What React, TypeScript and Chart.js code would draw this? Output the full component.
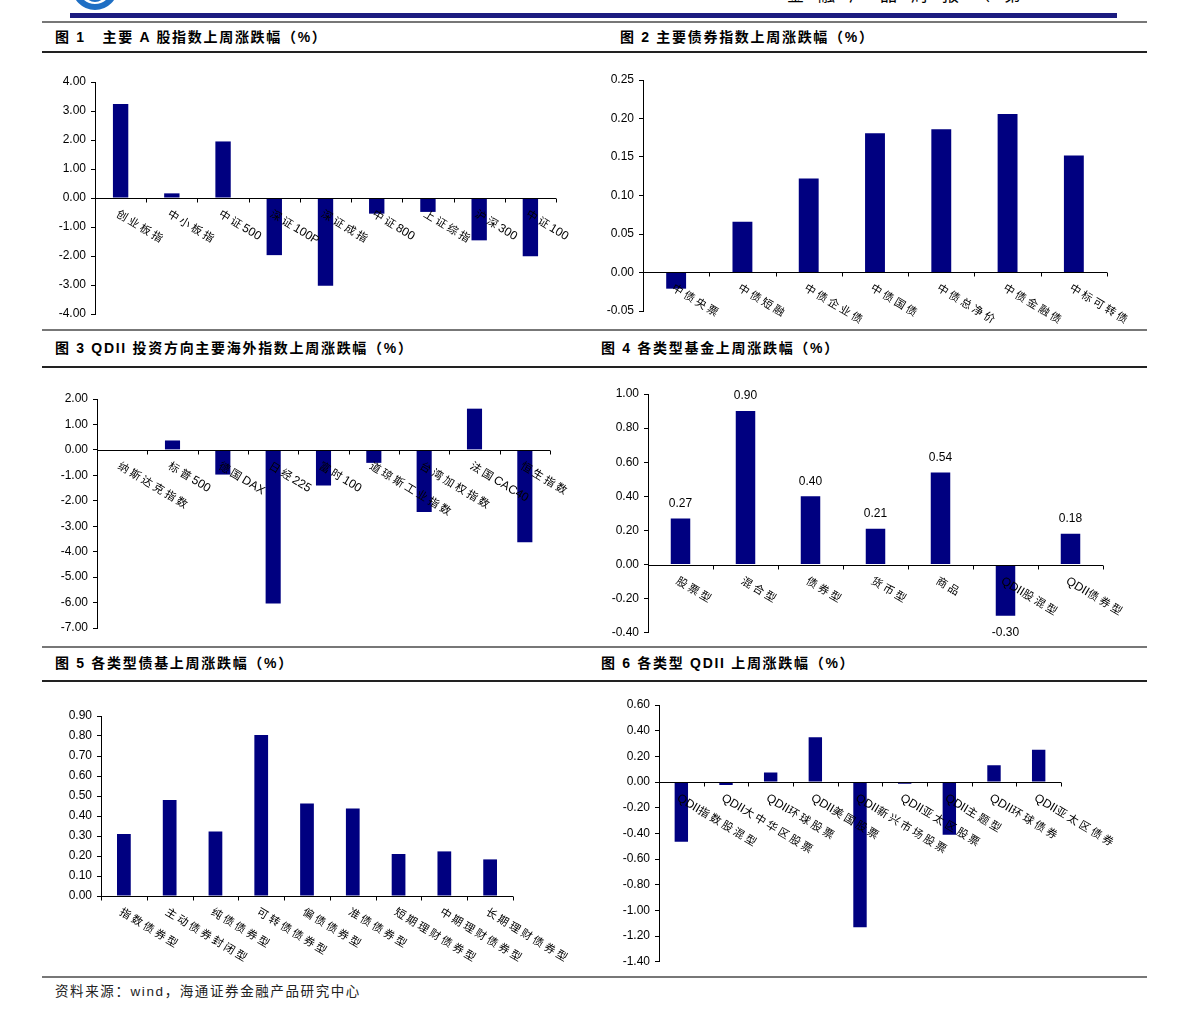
import React, { useEffect, useRef } from "react";
import { Chart, registerables } from "chart.js";

Chart.register(...registerables);

// ---------- data ----------
const aShareCategories = ["创业板指", "中小板指", "中证500", "深证100P", "深证成指", "中证800", "上证综指", "沪深300", "中证100"];
const aShareValues = [3.24, 0.16, 1.95, -1.97, -3.03, -0.54, -0.48, -1.46, -2.01];
const aShareTicks = [4, 3, 2, 1, 0, -1, -2, -3, -4];

const bondIndexCategories = ["中债央票", "中债短融", "中债企业债", "中债国债", "中债总净价", "中债金融债", "中标可转债"];
const bondIndexValues = [-0.021, 0.066, 0.122, 0.181, 0.186, 0.206, 0.152];
const bondIndexTicks = [0.25, 0.2, 0.15, 0.1, 0.05, 0, -0.05];

const overseasCategories = ["纳斯达克指数", "标普500", "德国DAX", "日经225", "富时100", "道琼斯工业指数", "台湾加权指数", "法国CAC40", "恒生指数"];
const overseasValues = [-0.03, 0.37, -0.97, -6.04, -1.4, -0.51, -2.44, 1.62, -3.63];
const overseasTicks = [2, 1, 0, -1, -2, -3, -4, -5, -6, -7];

const fundCategories = ["股票型", "混合型", "债券型", "货币型", "商品", "QDII股混型", "QDII债券型"];
const fundValues = [0.27, 0.9, 0.4, 0.21, 0.54, -0.3, 0.18];
const fundTicks = [1, 0.8, 0.6, 0.4, 0.2, 0, -0.2, -0.4];

const bondFundCategories = ["指数债券型", "主动债券封闭型", "纯债债券型", "可转债债券型", "偏债债券型", "准债债券型", "短期理财债券型", "中期理财债券型", "长期理财债券型"];
const bondFundValues = [0.31, 0.48, 0.323, 0.805, 0.462, 0.437, 0.21, 0.223, 0.183];
const bondFundTicks = [0.9, 0.8, 0.7, 0.6, 0.5, 0.4, 0.3, 0.2, 0.1, 0];

const qdiiCategories = ["QDII指数股混型", "QDII大中华区股票", "QDII环球股票", "QDII美国股票", "QDII新兴市场股票", "QDII亚太区股票", "QDII主题型", "QDII环球债券", "QDII亚太区债券"];
const qdiiValues = [-0.465, -0.023, 0.075, 0.348, -1.13, -0.013, -0.41, 0.13, 0.252];
const qdiiTicks = [0.6, 0.4, 0.2, 0, -0.2, -0.4, -0.6, -0.8, -1, -1.2, -1.4];

const titles = [
  "图 1   主要 A 股指数上周涨跌幅（%）",
  "图 2 主要债券指数上周涨跌幅（%）",
  "图 3 QDII 投资方向主要海外指数上周涨跌幅（%）",
  "图 4 各类型基金上周涨跌幅（%）",
  "图 5 各类型债基上周涨跌幅（%）",
  "图 6 各类型 QDII 上周涨跌幅（%）",
];
const sourceText = "资料来源：wind，海通证券金融产品研究中心";
const headerText = "金融产品周报（第 期）";

// ---------- styles ----------
const NAVY = "#000080";
const LATIN = "'Liberation Sans', Arial, sans-serif";
const CJK = "'Noto Sans CJK SC', sans-serif";
const LABEL_CJK_FONT = `11px ${CJK}`;
const LABEL_LATIN_FONT = `12px ${LATIN}`;

function isCJK(ch: string) {
  return /[\u2e80-\u9fff\uff00-\uffef\u3000-\u303f]/.test(ch);
}

function drawSpaced(ctx: CanvasRenderingContext2D, text: string, x: number, y: number) {
  let cx = x;
  for (const ch of text) {
    if (isCJK(ch)) {
      ctx.font = LABEL_CJK_FONT;
      ctx.fillText(ch, cx, y);
      cx += ctx.measureText(ch).width + 2.6;
    } else {
      ctx.font = LABEL_LATIN_FONT;
      ctx.fillText(ch, cx, y);
      cx += ctx.measureText(ch).width;
    }
  }
}

type PanelProps = {
  rect: [number, number, number, number];
  x0: number;
  xr: number;
  yTop: number;
  yBot: number;
  categories: string[];
  values: number[];
  ticks: number[];
  decimals: number;
  dataLabels?: boolean;
};

function BarPanel(props: PanelProps) {
  const ref = useRef<HTMLCanvasElement>(null);
  const [cl, ct, cw, ch] = props.rect;
  useEffect(() => {
    const sorted = [...props.ticks].sort((a, b) => a - b);
    const axisPlugin = {
      id: "excelAxis",
      afterDatasetsDraw(chart: any) {
        const ctx: CanvasRenderingContext2D = chart.ctx;
        const xs = chart.scales.x;
        const ys = chart.scales.y;
        const y0 = Math.round(ys.getPixelForValue(0)) + 0.5;
        const n = props.categories.length;
        const step = xs.getPixelForValue(1) - xs.getPixelForValue(0);
        const first = xs.getPixelForValue(0) - step / 2;
        ctx.save();
        ctx.strokeStyle = "#000";
        ctx.lineWidth = 1;
        ctx.beginPath();
        ctx.moveTo(Math.round(first), y0);
        ctx.lineTo(Math.round(first + n * step), y0);
        for (let i = 0; i <= n; i++) {
          const bx = Math.round(first + i * step) + 0.5;
          ctx.moveTo(bx, y0);
          ctx.lineTo(bx, y0 + 4);
        }
        ctx.stroke();
        ctx.fillStyle = "#000";
        ctx.textAlign = "left";
        ctx.textBaseline = "alphabetic";
        props.categories.forEach((c, i) => {
          const cx = xs.getPixelForValue(i);
          ctx.save();
          ctx.translate(cx, y0 + 9);
          ctx.rotate((31 * Math.PI) / 180);
          drawSpaced(ctx, c, 0, 10);
          ctx.restore();
        });
        if (props.dataLabels) {
          const meta = chart.getDatasetMeta(0);
          ctx.font = `12px ${LATIN}`;
          ctx.textAlign = "center";
          ctx.textBaseline = "middle";
          meta.data.forEach((el: any, i: number) => {
            const v = props.values[i];
            const ty = v >= 0 ? el.y - 15 : el.y + 17;
            ctx.fillText(v.toFixed(2), el.x, ty);
          });
        }
        ctx.restore();
      },
    };
    const chart = new Chart(ref.current as HTMLCanvasElement, {
      type: "bar",
      data: {
        labels: props.categories,
        datasets: [
          {
            data: props.values,
            backgroundColor: NAVY,
            borderWidth: 0,
            categoryPercentage: 1,
            barPercentage: 0.3,
          },
        ],
      },
      options: {
        animation: false,
        responsive: false,
        maintainAspectRatio: false,
        devicePixelRatio: 1,
        layout: {
          padding: {
            left: 0,
            top: props.yTop - ct,
            right: cl + cw - props.xr,
            bottom: ct + ch - props.yBot,
          },
        },
        plugins: { legend: { display: false }, tooltip: { enabled: false } },
        scales: {
          x: { display: false },
          y: {
            min: sorted[0],
            max: sorted[sorted.length - 1],
            afterBuildTicks: (s: any) => {
              s.ticks = sorted.map((v) => ({ value: v }));
            },
            afterFit: (s: any) => {
              s.width = props.x0 - cl;
            },
            border: { display: true, color: "#000", width: 1 },
            grid: { drawOnChartArea: false, drawTicks: true, tickLength: 4, color: "#000", lineWidth: 1 },
            ticks: {
              padding: 5,
              color: "#000",
              font: { family: LATIN, size: 12 },
              callback: (v: any) => Number(v).toFixed(props.decimals),
            },
          },
        },
      } as any,
      plugins: [axisPlugin],
    });
    return () => chart.destroy();
  }, []);
  return (
    <canvas
      ref={ref}
      width={cw}
      height={ch}
      style={{ position: "absolute", left: cl, top: ct, width: cw, height: ch }}
    />
  );
}

const hLine = (top: number, left: number, width: number, height: number, color: string) => (
  <div style={{ position: "absolute", top, left, width, height, background: color }} />
);

const titleStyle = (left: number, top: number): React.CSSProperties => ({
  position: "absolute",
  left,
  top,
  fontFamily: `${LATIN.split(",")[0]}, ${CJK}`,
  fontSize: 14,
  fontWeight: 700,
  letterSpacing: 1.7,
  lineHeight: "18px",
  whiteSpace: "pre",
  color: "#000",
});

export default function App() {
  return (
    <div
      style={{
        position: "absolute",
        left: 0,
        top: 0,
        width: 1191,
        height: 1020,
        background: "#fff",
        overflow: "hidden",
      }}
    >
      {/* logo fragment */}
      <div style={{ position: "absolute", left: 70, top: 0, width: 50, height: 11, overflow: "hidden" }}>
        <div
          style={{
            position: "absolute",
            left: 2,
            top: -36,
            width: 46,
            height: 46,
            borderRadius: "50%",
            border: "6px solid #1f6fc4",
            boxSizing: "border-box",
          }}
        />
        <div
          style={{
            position: "absolute",
            left: 14,
            top: -20,
            width: 22,
            height: 22,
            borderRadius: "50%",
            border: "5px solid #1f6fc4",
            boxSizing: "border-box",
          }}
        />
      </div>
      {/* clipped header text */}
      <div style={{ position: "absolute", left: 787, top: 0, width: 240, height: 3, overflow: "hidden" }}>
        <div
          style={{
            position: "absolute",
            left: 0,
            top: -15,
            fontFamily: CJK,
            fontSize: 17,
            lineHeight: "18px",
            letterSpacing: 14,
            whiteSpace: "nowrap",
            color: "#000",
          }}
        >
          {headerText}
        </div>
      </div>
      {hLine(13, 70, 1047, 5, "#1c1c80")}
      {hLine(21, 42, 1105, 2, "#777")}

      <div style={titleStyle(55, 28)}>{titles[0]}</div>
      <div style={titleStyle(620, 28)}>{titles[1]}</div>
      {hLine(51, 42, 1105, 2, "#222")}

      <BarPanel rect={[42, 58, 556, 270]} x0={95} xr={556} yTop={82} yBot={314} categories={aShareCategories} values={aShareValues} ticks={aShareTicks} decimals={2} />
      <BarPanel rect={[600, 58, 547, 270]} x0={643} xr={1107} yTop={80} yBot={311} categories={bondIndexCategories} values={bondIndexValues} ticks={bondIndexTicks} decimals={2} />

      {hLine(329, 42, 1105, 2, "#777")}
      <div style={titleStyle(55, 339)}>{titles[2]}</div>
      <div style={titleStyle(601, 339)}>{titles[3]}</div>
      {hLine(366, 42, 1105, 2, "#222")}

      <BarPanel rect={[42, 372, 556, 273]} x0={97} xr={550} yTop={399} yBot={628} categories={overseasCategories} values={overseasValues} ticks={overseasTicks} decimals={2} />
      <BarPanel rect={[600, 372, 547, 273]} x0={648} xr={1103} yTop={394} yBot={633} categories={fundCategories} values={fundValues} ticks={fundTicks} decimals={2} dataLabels />

      {hLine(646, 42, 1105, 2, "#777")}
      <div style={titleStyle(55, 654)}>{titles[4]}</div>
      <div style={titleStyle(601, 654)}>{titles[5]}</div>
      {hLine(680, 42, 1105, 2, "#222")}

      <BarPanel rect={[42, 686, 556, 288]} x0={101} xr={513} yTop={716} yBot={896} categories={bondFundCategories} values={bondFundValues} ticks={bondFundTicks} decimals={2} />
      <BarPanel rect={[600, 686, 547, 288]} x0={659} xr={1061} yTop={705} yBot={963} categories={qdiiCategories} values={qdiiValues} ticks={qdiiTicks} decimals={2} />

      {hLine(976, 42, 1105, 2, "#777")}
      <div
        style={{
          position: "absolute",
          left: 55,
          top: 983,
          fontFamily: `${LATIN.split(",")[0]}, ${CJK}`,
          fontSize: 13.5,
          letterSpacing: 1.6,
          lineHeight: "18px",
          whiteSpace: "nowrap",
          color: "#222",
        }}
      >
        {sourceText}
      </div>
    </div>
  );
}
